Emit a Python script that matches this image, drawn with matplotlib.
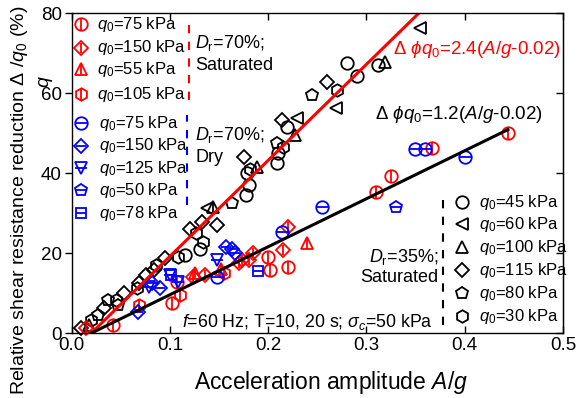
import numpy as np
import matplotlib
matplotlib.use("Agg")
import matplotlib.pyplot as plt

plt.rcParams['font.family'] = ['Liberation Sans', 'DejaVu Sans']
plt.rcParams['mathtext.fontset'] = 'custom'
plt.rcParams['mathtext.rm'] = 'Liberation Sans'
plt.rcParams['mathtext.it'] = 'Liberation Sans:italic'
plt.rcParams['mathtext.sf'] = 'Liberation Sans'

# Dr=70%, saturated (red, vertical bar)
r75_x = [0.042, 0.102, 0.107, 0.200, 0.202, 0.220, 0.310, 0.325, 0.367, 0.444]
r75_y = [2.0, 7.5, 12.7, 19.0, 15.8, 16.5, 35.2, 39.2, 46.2, 50.0]
r150_x = [0.015, 0.123, 0.136, 0.170, 0.173, 0.180, 0.185, 0.215, 0.220]
r150_y = [1.2, 14.0, 14.5, 17.5, 18.2, 18.2, 20.0, 20.7, 26.5]
r55_x = [0.126, 0.152, 0.239]
r55_y = [15.0, 16.0, 22.5]
r105_x = [0.069, 0.110, 0.155]
r105_y = [7.0, 9.5, 15.0]

# Dr=70%, dry (blue, horizontal bar)
b75_x = [0.148, 0.214, 0.255, 0.349, 0.360, 0.400]
b75_y = [14.0, 25.2, 31.5, 46.0, 46.0, 44.0]
b150_x = [0.068, 0.082, 0.090, 0.157, 0.163, 0.166]
b150_y = [5.2, 12.5, 11.2, 21.5, 21.0, 20.0]
b125_x = [0.079, 0.100, 0.108, 0.148]
b125_y = [11.5, 14.5, 12.7, 18.2]
b50_x = [0.330]
b50_y = [31.5]
b78_x = [0.101, 0.190]
b78_y = [14.5, 15.5]

# Dr=35%, saturated (black)
k45_x = [0.115, 0.131, 0.177, 0.180, 0.178, 0.209, 0.210, 0.219, 0.280, 0.290, 0.312]
k45_y = [19.5, 21.0, 34.5, 37.0, 40.0, 42.5, 45.0, 51.6, 67.5, 64.3, 67.0]
k60_x = [0.138, 0.229, 0.269, 0.354]
k60_y = [31.2, 53.7, 56.4, 76.2]
k100_x = [0.018, 0.144, 0.189, 0.227, 0.319]
k100_y = [2.0, 31.5, 41.5, 49.5, 67.8]
k115_x = [0.010, 0.033, 0.053, 0.069, 0.076, 0.084, 0.095, 0.120, 0.133, 0.148, 0.175, 0.214, 0.260]
k115_y = [1.2, 6.2, 10.0, 12.5, 14.5, 15.7, 18.7, 26.0, 27.7, 27.0, 44.0, 53.2, 62.9]
k80_x = [0.027, 0.037, 0.047, 0.163, 0.209, 0.245]
k80_y = [4.5, 8.2, 7.0, 32.5, 47.5, 59.5]
k30_x = [0.020, 0.045, 0.066, 0.086, 0.108, 0.127, 0.134, 0.181, 0.215, 0.270]
k30_y = [3.2, 8.2, 11.3, 17.0, 19.0, 25.0, 22.7, 41.0, 46.5, 60.7]

red_labels = ['75', '150', '55', '105']
blue_labels = ['75', '150', '125', '50', '78']
black_labels = ['45', '60', '100', '115', '80', '30']

fig = plt.figure(figsize=(5.78, 3.98), dpi=100)
ax = fig.add_axes([0.124, 0.163, 0.850, 0.804])

ms = 9
def pts(x, y, m, c, bar=None, s=ms):
    ax.plot(x, y, m, ls='none', ms=s, mfc='none', mec=c, mew=1.3, clip_on=False)
    if bar:
        ax.plot(x, y, bar, ls='none', ms=s, mec=c, mew=1.3, clip_on=False)

def msz(m):
    return ms - 1.5 if m in ('D', 's') else ms

# black group
for x, y, m in [(k45_x, k45_y, 'o'), (k60_x, k60_y, '<'), (k100_x, k100_y, '^'),
                (k115_x, k115_y, 'D'), (k80_x, k80_y, 'p'), (k30_x, k30_y, 'h')]:
    pts(x, y, m, 'black', s=msz(m))

# red group
for x, y, m in [(r75_x, r75_y, 'o'), (r150_x, r150_y, 'D'), (r55_x, r55_y, '^'), (r105_x, r105_y, 'h')]:
    pts(x, y, m, 'red', '|', s=msz(m))

# blue group
for x, y, m in [(b75_x, b75_y, 'o'), (b150_x, b150_y, 'D'), (b125_x, b125_y, 'v'),
                (b50_x, b50_y, 'p'), (b78_x, b78_y, 's')]:
    pts(x, y, m, 'blue', '_', s=msz(m))

# fitted lines
xr = np.array([0.02, 80 / 240 + 0.02])
ax.plot(xr, 240 * (xr - 0.02), color='red', lw=2.2)
xb = np.array([0.02, 0.444])
ax.plot(xb, 120 * (xb - 0.02), color='black', lw=2.2)

ax.text(0.327, 71, r"Δ $\phi q_0$=2.4($A/g$-0.02)", color='red', fontsize=13.5, va='center')
ax.text(0.309, 54.7, r"Δ $\phi q_0$=1.2($A/g$-0.02)", color='black', fontsize=13.5, va='center')

# left legend
fs = 12
fd = 13
ry = [77.2, 71.3, 66.0, 59.7]
for yy, m, lab in zip(ry, ['o', 'D', '^', 'h'], red_labels):
    pts([0.009], [yy], m, 'red', '|', s=msz(m))
    ax.text(0.026, yy, r"$q_0$=%s kPa" % lab, fontsize=fs, va='center')
by = [52.5, 46.9, 41.2, 35.7, 30.0]
for yy, m, lab in zip(by, ['o', 'D', 'v', 'p', 's'], blue_labels):
    pts([0.009], [yy], m, 'blue', '_', s=msz(m))
    ax.text(0.028, yy, r"$q_0$=%s kPa" % lab, fontsize=fs, va='center')
ax.plot([0.119, 0.119], [58.2, 78.7], color='red', lw=1.5, ls=(0, (4, 4)))
ax.plot([0.117, 0.117], [32.0, 54.5], color='blue', lw=1.5, ls=(0, (4, 4)))
ax.text(0.126, 72.5, r"$D_\mathrm{r}$=70%;", fontsize=fd, va='center')
ax.text(0.126, 67.0, "Saturated", fontsize=fd, va='center')
ax.text(0.126, 49.5, r"$D_\mathrm{r}$=70%;", fontsize=fd, va='center')
ax.text(0.126, 43.9, "Dry", fontsize=fd, va='center')

# right legend
ky = [32.7, 27.2, 21.5, 15.7, 10.0, 4.2]
for yy, m, lab in zip(ky, ['o', '<', '^', 'D', 'p', 'h'], black_labels):
    pts([0.397], [yy], m, 'black', s=msz(m))
    ax.text(0.415, yy, r"$q_0$=%s kPa" % lab, fontsize=fs, va='center')
ax.plot([0.378, 0.378], [2.0, 35.0], color='black', lw=1.5, ls=(0, (4, 4)))
ax.text(0.373, 19.0, r"$D_\mathrm{r}$=35%;", fontsize=fd, va='center', ha='right')
ax.text(0.373, 13.8, "Saturated", fontsize=fd, va='center', ha='right')

ax.text(0.112, 2.8, r"$f$=60 Hz; T=10, 20 s; $\sigma_c$=50 kPa", fontsize=12.8, va='center')

ax.set_xlim(0, 0.5)
ax.set_ylim(0, 80)
ax.set_xticks([0.0, 0.1, 0.2, 0.3, 0.4, 0.5])
ax.set_xticklabels(['0.0', '0.1', '0.2', '0.3', '0.4', '0.5'])
ax.set_yticks([0, 20, 40, 60, 80])
ax.tick_params(axis='x', direction='in', top=True, labelsize=13.5, length=5, width=1, pad=3)
ax.tick_params(axis='y', direction='out', right=False, labelsize=13.5, length=5, width=1, pad=2)
sec = ax.secondary_yaxis('right')
sec.set_yticks([0, 20, 40, 60, 80])
sec.tick_params(direction='in', labelright=False, length=5, width=1)
for sp in ax.spines.values():
    sp.set_linewidth(1.0)

fig.text(331 / 578, 1 - 382 / 398, r"Acceleration amplitude $A$/$g$", fontsize=16.5,
         ha='center', va='center')
fig.text(20 / 578, 1 - 200 / 398, r"Relative shear resistance reduction Δ /$q_0$ (%)",
         fontsize=14, rotation=90, ha='center', va='center')
fig.text(44 / 578, 1 - 82 / 398, 'q', rotation=90, style='italic', fontsize=14,
         ha='center', va='center')

fig.savefig('out.png', dpi=100)
